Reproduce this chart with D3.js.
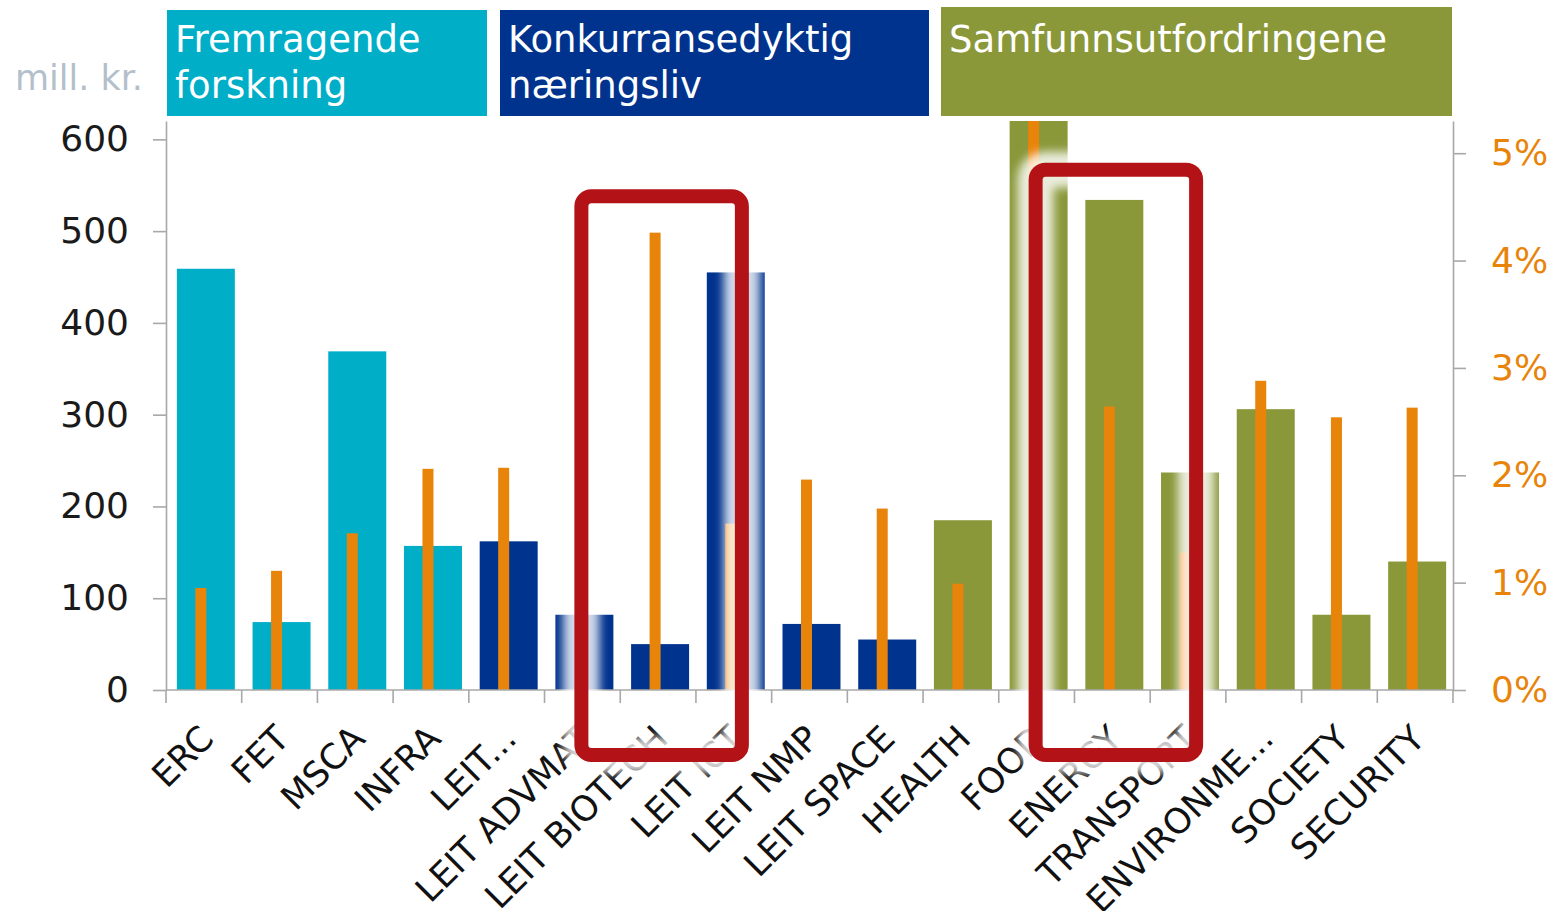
<!DOCTYPE html>
<html>
<head>
<meta charset="utf-8">
<script src="https://cdn.jsdelivr.net/npm/d3@7"></script>
<style>
  body { margin: 0; background: #fff; }
  text { font-family: "DejaVu Sans", Verdana, sans-serif; }
</style>
</head>
<body>
<script>
var width = 1552;
var height = 911;

// categories along the x axis
var categories = ["ERC", "FET", "MSCA", "INFRA", "LEIT...", "LEIT ADVMAT", "LEIT BIOTECH",
                  "LEIT ICT", "LEIT NMP", "LEIT SPACE", "HEALTH", "FOOD", "ENERGY",
                  "TRANSPORT", "ENVIRONME...", "SOCIETY", "SECURITY"];
// pillar each category belongs to
var pillars = ["Fremragende forskning", "Konkurransedyktig næringsliv", "Samfunnsutfordringene"];
var pillarOf = [0, 0, 0, 0, 1, 1, 1, 1, 1, 1, 2, 2, 2, 2, 2, 2, 2];
// mill. kr. (left axis)
var amounts = [459, 74, 369, 157, 162, 82, 50, 455, 72, 55, 185, 640, 534, 237, 306, 82, 140];
// share in % (right axis)
var shares = [0.95, 1.11, 1.46, 2.06, 2.07, null, 4.26, 1.55, 1.96, 1.69, 0.99, 5.6, 2.64, 1.28, 2.88, 2.54, 2.63];
var leftTicks = [0, 100, 200, 300, 400, 500, 600];
var rightTicks = [0, 1, 2, 3, 4, 5];
// highlighted ranges (first category, last category, top in mill. kr.)
var highlights = [
  {from: "LEIT ADVMAT", to: "LEIT ICT", top: 538},
  {from: "FOOD", to: "TRANSPORT", top: 567}
];

var pillarColors = ["#00aec8", "#00338d", "#8a983a"];
var orange = "#e8840a";
var axisGrey = "#a8a8a8";

var plotLeft = 166, plotRight = 1453, base = 690, plotTop = 121;

var svg = d3.select("body").append("svg")
    .attr("width", width)
    .attr("height", height);

var defs = svg.append("defs");
defs.append("clipPath").attr("id", "plot")
  .append("rect")
    .attr("x", plotLeft).attr("y", plotTop)
    .attr("width", plotRight - plotLeft).attr("height", base - plotTop);
defs.append("filter").attr("id", "glow")
    .attr("x", "-20%").attr("y", "-20%").attr("width", "140%").attr("height", "140%")
  .append("feGaussianBlur").attr("stdDeviation", 5);

var x = d3.scaleBand()
    .domain(categories)
    .range([plotLeft, plotRight])
    .paddingInner(0.234)
    .paddingOuter(0.117);

var y = d3.scaleLinear().domain([0, 620]).range([base, plotTop]);
var y2 = d3.scaleLinear().domain([0, 5.3]).range([base, plotTop]);

var step = x.step();
var orangeW = 11;
var barShift = 2;

// pillar header boxes
var headers = [
  {i: 0, x0: 167, x1: 487, y0: 10},
  {i: 1, x0: 500, x1: 929, y0: 10},
  {i: 2, x0: 941, x1: 1452, y0: 7}
];
var hdr = svg.selectAll(".hdr")
  .data(headers)
  .enter()
  .append("g")
    .classed("hdr", true);
hdr.append("rect")
    .attr("x", d => d.x0)
    .attr("y", d => d.y0)
    .attr("width", d => d.x1 - d.x0)
    .attr("height", d => 116 - d.y0)
    .attr("fill", d => pillarColors[d.i]);
hdr.append("text")
    .attr("fill", "#fff")
    .attr("font-size", 37)
    .each(function(d) {
      var words = d.i === 2 ? [pillars[d.i]] : pillars[d.i].split(" ");
      var t = d3.select(this);
      words.forEach((w, k) => {
        t.append("tspan")
          .attr("x", d.x0 + 8)
          .attr("y", 52 + k * 46)
          .text(w);
      });
    });

svg.append("text")
    .attr("x", 143)
    .attr("y", 90)
    .attr("text-anchor", "end")
    .attr("font-size", 35)
    .attr("fill", "#b3bfcb")
    .text("mill. kr.");

// bars
var plot = svg.append("g").attr("clip-path", "url(#plot)");
plot.selectAll(".bar")
  .data(categories)
  .enter()
  .append("rect")
    .classed("bar", true)
    .attr("x", d => x(d) + barShift)
    .attr("y", (d, i) => y(amounts[i]))
    .attr("width", x.bandwidth())
    .attr("height", (d, i) => base - y(amounts[i]))
    .attr("fill", (d, i) => pillarColors[pillarOf[i]]);

plot.selectAll(".share")
  .data(categories.filter((d, i) => shares[i] != null))
  .enter()
  .append("rect")
    .classed("share", true)
    .attr("x", d => x(d) + barShift + x.bandwidth() / 2 - 5 - orangeW / 2)
    .attr("y", d => y2(shares[categories.indexOf(d)]))
    .attr("width", orangeW)
    .attr("height", d => base - y2(shares[categories.indexOf(d)]))
    .attr("fill", orange);

// axes
var yAxis = d3.axisLeft(y).tickValues(leftTicks).tickSize(13).tickSizeOuter(0).tickPadding(24);
var gy = svg.append("g").attr("transform", `translate(${plotLeft},0)`).call(yAxis);
gy.selectAll("text").attr("font-size", 36).attr("fill", "#1a1a1a").attr("font-family", "DejaVu Sans");

var y2Axis = d3.axisRight(y2).tickValues(rightTicks).tickSize(13).tickSizeOuter(0).tickPadding(25)
    .tickFormat(d => d + "%");
var gy2 = svg.append("g").attr("transform", `translate(${plotRight},0)`).call(y2Axis);
gy2.selectAll("text").attr("font-size", 36).attr("fill", orange).attr("font-family", "DejaVu Sans");

[gy, gy2].forEach(g => {
  g.selectAll("path, line").attr("stroke", axisGrey).attr("stroke-width", 1.6);
});

svg.append("line")
    .attr("x1", plotLeft).attr("x2", plotRight)
    .attr("y1", base).attr("y2", base)
    .attr("stroke", axisGrey).attr("stroke-width", 1.6);

svg.selectAll(".xtick")
  .data(d3.range(categories.length + 1))
  .enter()
  .append("line")
    .classed("xtick", true)
    .attr("x1", i => plotLeft + i * step).attr("x2", i => plotLeft + i * step)
    .attr("y1", base).attr("y2", base + 13)
    .attr("stroke", axisGrey).attr("stroke-width", 1.6);

svg.selectAll(".xlab")
  .data(categories)
  .enter()
  .append("text")
    .classed("xlab", true)
    .attr("text-anchor", "end")
    .attr("font-size", 35)
    .attr("fill", "#111")
    .attr("dy", "0.35em")
    .attr("transform", d => `translate(${x(d) + x.bandwidth() / 2 + 3},${base + 42}) rotate(-45)`)
    .text(d => d);

// highlight boxes
var hl = svg.selectAll(".hl")
  .data(highlights)
  .enter()
  .append("g")
    .classed("hl", true);

function box(sel) {
  sel.attr("x", d => x(d.from) + x.bandwidth() / 2 - 1)
     .attr("y", d => y(d.top))
     .attr("width", d => x(d.to) - x(d.from) + 0.12 * step)
     .attr("height", d => base + 65 - y(d.top))
     .attr("rx", 10)
     .attr("fill", "none");
}
hl.append("rect").call(box)
    .attr("stroke", "#fff")
    .attr("stroke-width", 36)
    .attr("opacity", 0.82)
    .attr("filter", "url(#glow)");
hl.append("rect").call(box)
    .attr("stroke", "#b31317")
    .attr("stroke-width", 14);
</script>
</body>
</html>
